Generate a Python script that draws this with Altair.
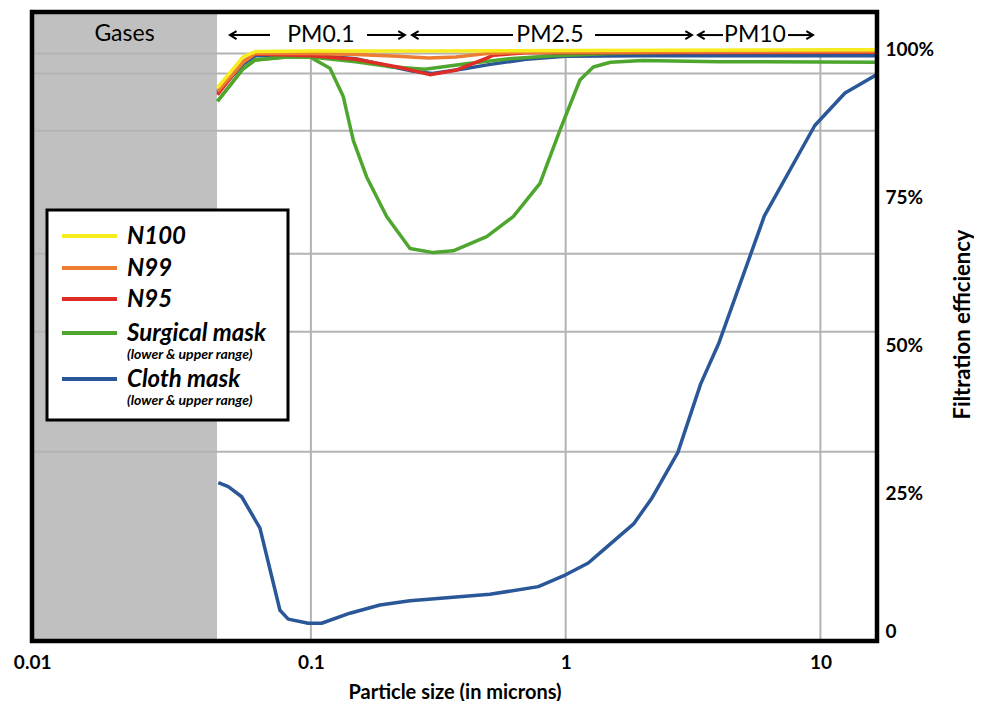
import altair as alt
import pandas as pd

# ---------------- data (particle size in microns, efficiency in %) ----------------
n100_x = [0.043, 0.0542, 0.0605, 0.1, 0.3, 1.0, 16.6]
n100_y = [93.6, 98.8, 99.7, 99.8, 99.8, 99.9, 100.0]

n99_x = [0.043, 0.0542, 0.0605, 0.1, 0.15, 0.22, 0.29, 0.37, 0.5, 0.7, 16.6]
n99_y = [93.0, 97.9, 99.4, 99.4, 99.2, 98.9, 98.6, 98.8, 99.4, 99.6, 99.7]

n95_x = [0.043, 0.0542, 0.0605, 0.1, 0.15, 0.224, 0.293, 0.374, 0.49, 0.52, 0.7, 16.6]
n95_y = [92.4, 98.0, 99.3, 99.0, 98.4, 97.0, 95.8, 96.6, 98.6, 99.1, 99.5, 99.6]

surg_lo_x = [0.043, 0.0542, 0.0605, 0.08, 0.0992, 0.1188, 0.134, 0.1467, 0.1655, 0.1983,
             0.2449, 0.3022, 0.3621, 0.4898, 0.6228, 0.7929, 0.95, 1.138, 1.284, 1.5,
             2.0, 4.0, 16.6]
surg_lo_y = [91.3, 96.8, 98.3, 98.8, 98.8, 96.9, 92.1, 84.7, 78.5, 71.8,
             66.4, 65.7, 66.0, 68.4, 71.8, 77.4, 86.4, 94.9, 97.1, 97.9,
             98.2, 98.0, 97.9]

surg_hi_x = [0.043, 0.0542, 0.0605, 0.08, 0.1, 0.15, 0.2, 0.28, 0.4, 0.6, 0.9, 1.5, 4.0, 16.6]
surg_hi_y = [91.3, 96.8, 98.3, 98.8, 98.8, 98.0, 97.2, 96.7, 97.6, 98.5, 99.0, 99.4, 99.7, 100.0]

cloth_lo_x = [0.0433, 0.0474, 0.0535, 0.0631, 0.0756, 0.0815, 0.0976, 0.1102, 0.1423, 0.1867,
              0.2449, 0.5045, 0.781, 0.979, 1.227, 1.364, 1.848, 2.183, 2.758, 3.389,
              4.003, 6.027, 9.506, 12.49, 16.6]
cloth_lo_y = [26.8, 26.1, 24.4, 19.1, 5.2, 3.7, 3.0, 3.0, 4.7, 6.1,
              6.8, 7.9, 9.2, 11.0, 13.2, 14.9, 19.8, 24.2, 31.9, 43.5,
              50.5, 71.9, 87.2, 92.7, 95.8]

cloth_hi_x = [0.043, 0.0542, 0.0605, 0.1, 0.15, 0.2, 0.25, 0.3, 0.4, 0.5, 0.7, 1.0, 2.0, 16.6]
cloth_hi_y = [92.8, 97.6, 99.0, 99.1, 98.5, 97.3, 96.4, 96.0, 96.8, 97.5, 98.4, 98.9, 99.0, 99.0]

# series order = drawing order (bottom to top)
series = [
    ("Cloth mask lower", cloth_lo_x, cloth_lo_y, "#2A5797"),
    ("Cloth mask upper", cloth_hi_x, cloth_hi_y, "#2A5797"),
    ("Surgical mask lower", surg_lo_x, surg_lo_y, "#4EA62E"),
    ("Surgical mask upper", surg_hi_x, surg_hi_y, "#4EA62E"),
    ("N95", n95_x, n95_y, "#DE2C26"),
    ("N99", n99_x, n99_y, "#ED7D31"),
    ("N100", n100_x, n100_y, "#F7EC1E"),
]

legend_labels = ["N100", "N99", "N95", "Surgical mask", "Cloth mask"]
legend_colors = ["#F7EC1E", "#ED7D31", "#DE2C26", "#4EA62E", "#2A5797"]
legend_sub = ["", "", "", "(lower & upper range)", "(lower & upper range)"]

x_ticks = [0.01, 0.1, 1, 10]
y_ticks = [0, 25, 50, 75, 100]
grid_h = [99.4, 96.0, 86.3, 65.5, 52.3, 32.0]
grid_v = [0.1, 1, 10]

gases_x0, gases_x1 = 0.00804, 0.0428
x_domain = [0.00804, 16.68]
y_domain = [0, 106.4]

pm_labels = ["PM0.1", "PM2.5", "PM10"]
pm_label_x = [0.1095, 0.868, 5.537]
pm_left_from = [0.0481, 0.2493, 3.308]
pm_left_to = [0.0691, 0.6214, 4.147]
pm_right_from = [0.1661, 1.304, 7.464]
pm_right_to = [0.234, 3.133, 9.355]
annot_y = 102.5
gases_y = 102.7

# ---------------- layout ----------------
W, H = 845, 629
FONT = "Lato"

xscale = alt.Scale(type="log", domain=x_domain, nice=False)
yscale = alt.Scale(domain=y_domain, nice=False, zero=False)

x_axis = alt.Axis(
    values=x_ticks, format="~g", grid=False, ticks=False, domain=False,
    labelFont=FONT, labelFontWeight="bold", labelFontSize=19, labelColor="black",
    labelPadding=12, labelFlush=False, labelOverlap=False,
    labelOffset={"condition": {"test": "datum.value < 0.05", "value": -24}, "value": 0},
    title="Particle size (in microns)", titleFont=FONT, titleFontWeight="bold",
    titleFontSize=20, titleColor="black", titlePadding=10,
)
y_axis = alt.Axis(
    orient="right", values=y_ticks,
    labelExpr="datum.value == 0 ? '0' : datum.value + '%'",
    grid=False, ticks=False, domain=False,
    labelFont=FONT, labelFontWeight="bold", labelFontSize=19, labelColor="black",
    labelPadding=8, labelFlush=False, labelOverlap=False,
    labelBaseline={"condition": {"test": "datum.value == 0", "value": "bottom"}, "value": "middle"},
    title="Filtration efficiency", titleFont=FONT, titleFontWeight="bold",
    titleFontSize=22, titleColor="black", titleAngle=270,
    titleX=85, titleY=312, titleAlign="center", titleBaseline="middle",
)


def X(field):
    return alt.X(field, type="quantitative", scale=xscale, axis=x_axis)


def Y(field):
    return alt.Y(field, type="quantitative", scale=yscale, axis=y_axis)


layers = []

# gases region
gas_df = pd.DataFrame({"x0": [gases_x0], "x1": [gases_x1], "y0": [y_domain[0]], "y1": [y_domain[1]]})
layers.append(
    alt.Chart(gas_df).mark_rect(color="#C0C0C0").encode(
        x=X("x0"), x2="x1", y=Y("y0"), y2="y1"
    )
)

# grid lines
gh_df = pd.DataFrame({"v": grid_h})
layers.append(
    alt.Chart(gh_df).mark_rule(color="#B3B3B3", strokeWidth=2).encode(y=Y("v"))
)
gv_df = pd.DataFrame({"v": grid_v, "y0": [0] * len(grid_v), "y1": [100] * len(grid_v)})
layers.append(
    alt.Chart(gv_df).mark_rule(color="#B3B3B3", strokeWidth=2).encode(
        x=X("v"), y=Y("y0"), y2="y1"
    )
)

# curves
for name, xs, ys, col in series:
    df = pd.DataFrame({"size": xs, "eff": ys})
    layers.append(
        alt.Chart(df).mark_line(color=col, strokeWidth=3.5, strokeJoin="round", clip=True).encode(
            x=X("size"), y=Y("eff")
        )
    )

# PM annotations
pm_df = pd.DataFrame({
    "label": pm_labels, "lx": pm_label_x,
    "a0": pm_left_from, "a1": pm_left_to,
    "b0": pm_right_from, "b1": pm_right_to,
    "y": [annot_y] * 3,
})
layers.append(alt.Chart(pm_df).mark_rule(color="black", strokeWidth=2).encode(x=X("a0"), x2="a1", y=Y("y")))
layers.append(alt.Chart(pm_df).mark_rule(color="black", strokeWidth=2).encode(x=X("b0"), x2="b1", y=Y("y")))
layers.append(
    alt.Chart(pm_df).mark_point(shape="M2,-1.2L0,0L2,1.2", filled=False, color="black",
                                strokeWidth=2, size=44, opacity=1).encode(x=X("a0"), y=Y("y"))
)
layers.append(
    alt.Chart(pm_df).mark_point(shape="M-2,-1.2L0,0L-2,1.2", filled=False, color="black",
                                strokeWidth=2, size=44, opacity=1).encode(x=X("b1"), y=Y("y"))
)
layers.append(
    alt.Chart(pm_df).mark_text(font=FONT, fontSize=23, color="black", baseline="middle", align="center").encode(
        x=X("lx"), y=Y("y"), text="label:N"
    )
)

# Gases label (geometric centre of the grey band)
gl_df = pd.DataFrame({"t": ["Gases"], "x": [(gases_x0 * gases_x1) ** 0.5], "y": [gases_y]})
layers.append(
    alt.Chart(gl_df).mark_text(font=FONT, fontSize=23, color="black", baseline="middle", align="center").encode(
        x=X("x"), y=Y("y"), text="t:N"
    )
)

# custom legend
one = alt.Data(values=[{"a": 1}])
LX0, LX1, LY0, LY1 = 15, 256, 198, 408
layers.append(
    alt.Chart(one).mark_rect(fill="white", stroke="black", strokeWidth=3).encode(
        x=alt.value(LX0), x2=alt.value(LX1), y=alt.value(LY0), y2=alt.value(LY1)
    )
)
row_y = [224, 256, 287, 321, 367]
for lab, col, sub, ry in zip(legend_labels, legend_colors, legend_sub, row_y):
    layers.append(
        alt.Chart(one).mark_rule(color=col, strokeWidth=4).encode(
            x=alt.value(30), x2=alt.value(85), y=alt.value(ry)
        )
    )
    layers.append(
        alt.Chart(one).mark_text(font=FONT, fontSize=24, fontWeight="bold", fontStyle="italic",
                                 color="black", align="left", baseline="middle").encode(
            x=alt.value(95), y=alt.value(ry + 1), text=alt.value(lab)
        )
    )
    if sub:
        layers.append(
            alt.Chart(one).mark_text(font=FONT, fontSize=14, fontWeight="bold", fontStyle="italic",
                                     color="black", align="left", baseline="middle").encode(
                x=alt.value(95), y=alt.value(ry + 22), text=alt.value(sub)
            )
        )

# frame
layers.append(
    alt.Chart(one).mark_rect(filled=False, stroke="black", strokeWidth=4.5).encode(
        x=alt.value(0), x2=alt.value(W), y=alt.value(0), y2=alt.value(H)
    )
)

chart = alt.layer(*layers).properties(
    width=W, height=H,
    autosize=alt.AutoSizeParams(type="none"),
    padding={"left": 24, "top": 4, "right": 97, "bottom": 60},
).configure_view(stroke=None).configure(background="white")

chart.save("out.html", embed_options={"renderer": "svg", "actions": False})
